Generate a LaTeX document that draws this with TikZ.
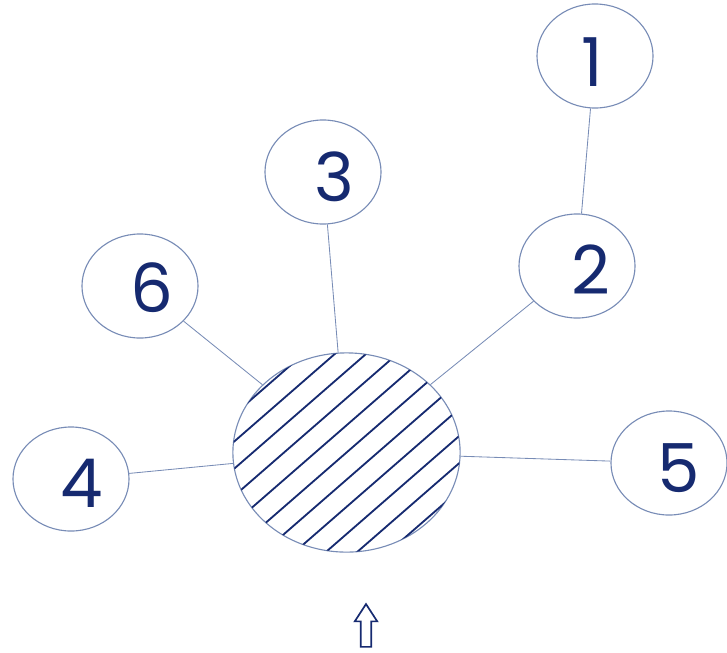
\documentclass[tikz,border=0pt]{standalone}
\usepackage{fontspec}
\setmainfont{Poppins}
\usetikzlibrary{shapes.geometric,shapes.arrows,calc}
\definecolor{rimblue}{RGB}{120,140,182}
\definecolor{inkblue}{RGB}{22,42,112}
\tikzset{
  hub/leaf/.style={draw=rimblue, ellipse, line width=0.8pt, minimum width=2.9cm, minimum height=2.6cm, inner sep=0pt},
  hub/digit/.style={text=inkblue, inner sep=0pt, font=\fontsize{48}{48}\selectfont},
  hub/core/.style={draw=rimblue, ellipse, line width=0.8pt, minimum width=5.68cm, minimum height=4.98cm, inner sep=0pt},
  hub/hatch/.style={draw=inkblue, line width=1.3pt},
  hub/line/.style={draw=rimblue, line width=0.6pt},
  hub/arrow/.style={draw=inkblue, line width=1.2pt, single arrow, shape border rotate=90, inner sep=0.11cm, single arrow head extend=0.15cm, single arrow head indent=0pt, single arrow tip angle=66, minimum height=1.07cm}
}

\begin{document}
\begin{tikzpicture}[x=0.025cm, y=-0.025cm]
  \useasboundingbox (0,0) rectangle (727,652);

  \node[hub/core] (core) at (346.5,452.5) {};
  \node[hub/leaf, label={[hub/digit, xshift=-0.08cm, yshift=-0.15cm]center:1}] (n1) at (595,56) {};
  \node[hub/leaf, label={[hub/digit, xshift=0.35cm, yshift=-0.1cm]center:2}] (n2) at (577,266) {};
  \node[hub/leaf, label={[hub/digit, xshift=0.28cm, yshift=-0.12cm]center:3}] (n3) at (323,172) {};
  \node[hub/leaf, label={[hub/digit, xshift=0.3cm, yshift=-0.05cm]center:6}] (n6) at (140,286) {};
  \node[hub/leaf, label={[hub/digit, xshift=0.28cm, yshift=-0.12cm]center:4}] (n4) at (71,479) {};
  \node[hub/leaf, label={[hub/digit, xshift=0.25cm, yshift=-0.12cm]center:5}] (n5) at (669,463) {};

  % hatching inside the core
  \begin{scope}
    \clip (346.5,452.5) ellipse [x radius=113.5, y radius=99.5];
    \foreach \k in {-5,...,5}
      \draw[hub/hatch] ($(346.5,452.5)+(\k*13.45,\k*15.48)+(-173.5,151)$) -- ++(347,-302);
  \end{scope}

  \draw[hub/line] (n1) -- (n2);
  \draw[hub/line] (n2) -- (core);
  \draw[hub/line] (n3) -- (core);
  \draw[hub/line] (n6) -- (core);
  \draw[hub/line] (n4) -- (core);
  \draw[hub/line] (n5) -- (core);

  \node[hub/arrow] (up) at (366,629.5) {};
\end{tikzpicture}
\end{document}
